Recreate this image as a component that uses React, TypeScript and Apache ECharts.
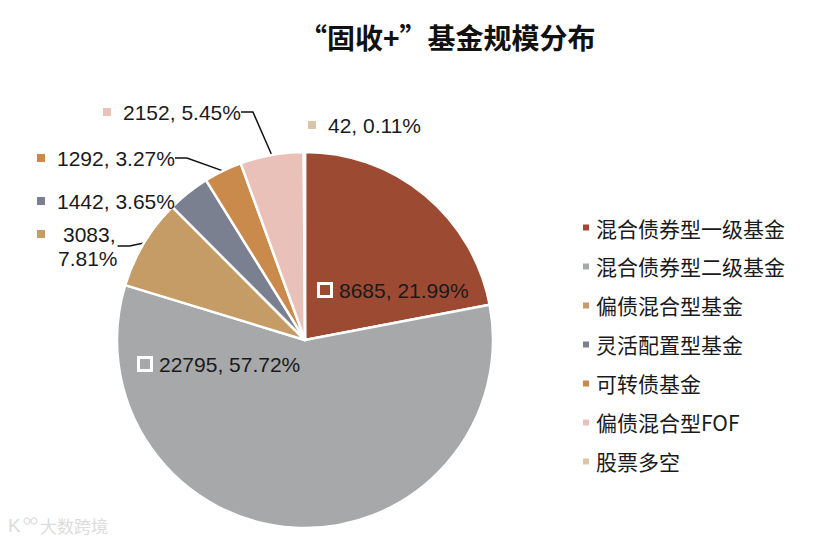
import React, { useEffect, useRef } from "react";
import * as echarts from "echarts";

const titleText = "“固收+”基金规模分布";
const categories = [
  "混合债券型一级基金",
  "混合债券型二级基金",
  "偏债混合型基金",
  "灵活配置型基金",
  "可转债基金",
  "偏债混合型FOF",
  "股票多空",
];
const values = [8685, 22795, 3083, 1442, 1292, 2152, 42];
const colors = ["#9D4A33", "#A7A8AA", "#C59B66", "#7B8091", "#C98A4B", "#E9C1B8", "#DCC4A7"];

// label placement (layout only)
const labelPos = [
  { x: 320, y: 290 },
  { x: 140, y: 364 },
  { x: 37, y: 246 },
  { x: 37, y: 201 },
  { x: 37, y: 158 },
  { x: 103, y: 112 },
  { x: 308, y: 125 },
];
const innerIdx = [0, 1];
const noLineIdx = [3, 6];
const wrapIdx = [2];

const FONT = "'Liberation Sans', Arial, 'Noto Sans CJK SC', sans-serif";
const CJK = "'Noto Sans CJK SC', 'Liberation Sans', sans-serif";

export default function App() {
  const ref = useRef<HTMLDivElement>(null);
  useEffect(() => {
    document.body.style.margin = "0";
    if (!ref.current) return;
    const chart = echarts.init(ref.current, undefined, { renderer: "svg" });
    const data = values.map((v, i) => {
      const inner = innerIdx.includes(i);
      const wrap = wrapIdx.includes(i);
      return {
        name: categories[i],
        value: v,
        itemStyle: { color: colors[i] },
        labelLine: { show: !inner && !noLineIdx.includes(i) },
        label: {
          position: inner ? "inside" : "outside",
          formatter: (p: any) => {
            const pct = Number(p.percent).toFixed(2) + "%";
            if (inner) return `{box|}{t|${p.value}, ${pct}}`;
            if (wrap) return `{sq|}{tw|${p.value},}\n{l2|${pct}}`;
            return `{sq|}{t|${p.value}, ${pct}}`;
          },
          rich: {
            box: {
              width: 10,
              height: 10,
              borderColor: "#fff",
              borderWidth: 3,
              backgroundColor: colors[i],
            },
            sq: { width: 8, height: 8, backgroundColor: colors[i] },
            t: {
              fontSize: 21,
              fontFamily: FONT,
              color: "#1a1a1a",
              padding: [0, 0, 0, inner ? 9 : 12],
            },
            tw: {
              fontSize: 21,
              fontFamily: FONT,
              color: "#1a1a1a",
              lineHeight: 24,
              padding: [0, 0, 0, 18],
            },
            l2: {
              fontSize: 21,
              fontFamily: FONT,
              color: "#1a1a1a",
              lineHeight: 24,
              padding: [0, 0, 0, 21],
            },
          },
        },
      };
    });
    chart.setOption({
      animation: false,
      backgroundColor: "#fff",
      title: {
        text: titleText,
        left: 299,
        top: 23,
        padding: 0,
        textStyle: { fontSize: 28, fontWeight: "bold", color: "#111", fontFamily: CJK },
      },
      legend: {
        orient: "vertical",
        left: 576,
        top: 212,
        itemWidth: 8,
        itemHeight: 8,
        itemGap: 18,
        icon: "rect",
        selectedMode: false,
        data: categories,
        textStyle: { fontSize: 21, color: "#1a1a1a", fontFamily: CJK, padding: [0, 0, 0, 1] },
      },
      graphic: [
        {
          type: "text",
          left: 40,
          top: 517,
          style: { text: "大数跨境", fontSize: 17, fill: "#dcdcdc", fontFamily: CJK },
        },
        {
          type: "text",
          left: 8,
          top: 516,
          style: { text: "K", fontSize: 19, fill: "#dcdcdc", fontFamily: FONT },
        },
        { type: "circle", shape: { cx: 27, cy: 521, r: 3 }, style: { fill: "none", stroke: "#dcdcdc", lineWidth: 1.2 } },
        { type: "circle", shape: { cx: 34, cy: 521, r: 3 }, style: { fill: "none", stroke: "#dcdcdc", lineWidth: 1.2 } },
      ],
      series: [
        {
          type: "pie",
          center: [305, 340],
          radius: 188,
          startAngle: 90,
          clockwise: true,
          avoidLabelOverlap: false,
          emphasis: { disabled: true },
          itemStyle: { borderColor: "#fff", borderWidth: 2.5 },
          labelLine: {
            length: 12,
            length2: 12,
            lineStyle: { color: "#111", width: 1.5 },
          },
          labelLayout: (p: any) => {
            const pos = labelPos[p.dataIndex];
            return { x: pos.x, y: pos.y, align: "left", verticalAlign: "middle" };
          },
          data,
        },
      ],
    });
    return () => chart.dispose();
  }, []);
  return <div ref={ref} style={{ width: 824, height: 543 }} />;
}
